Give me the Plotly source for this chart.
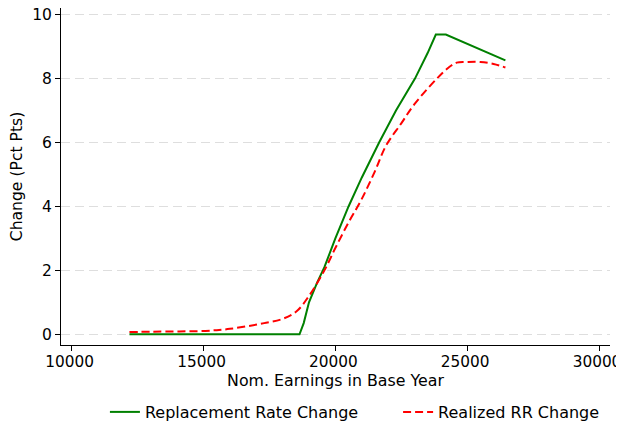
import plotly.graph_objects as go

# earnings grid and series
rr_x = [12190, 18640, 18800, 19000, 19300, 19585, 20000, 20500, 21000, 21660,
        22300, 23020, 23500, 23811, 24190, 26450]
rr_y = [0, 0, 0.35, 1.0, 1.6, 2.1, 3.0, 4.0, 4.9, 6.0,
        7.0, 8.0, 8.8, 9.38, 9.38, 8.57]

real_x = [12190, 13000, 14000, 14870, 15500, 16000, 16640, 17300, 17960, 18530,
          19000, 19585, 20000, 20500, 20980, 21500, 21920, 22500, 23000, 23850,
          24300, 24600, 25000, 25500, 26000, 26450]
real_y = [0.07, 0.08, 0.09, 0.1, 0.13, 0.17, 0.25, 0.35, 0.47, 0.72,
          1.2, 2.0, 2.7, 3.5, 4.2, 5.1, 5.9, 6.6, 7.2, 8.0,
          8.35, 8.5, 8.52, 8.52, 8.46, 8.35]

x_ticks = [10000, 15000, 20000, 25000, 30000]
x_labels = ["10000", "15000", "20000", "25000", "30000"]
y_ticks = [0, 2, 4, 6, 8, 10]

FONT = "DejaVu Sans"

fig = go.Figure()
fig.add_trace(go.Scatter(x=rr_x, y=rr_y, mode="lines", name="Replacement Rate Change",
                         line=dict(color="#008000", width=2), legend="legend"))
fig.add_trace(go.Scatter(x=real_x, y=real_y, mode="lines", name="Realized RR Change",
                         line=dict(color="#ff0000", width=2, dash="8px,4px", shape="spline"),
                         legend="legend2"))

fig.update_xaxes(range=[9594, 30417], tickvals=x_ticks, ticktext=x_labels,
                 ticks="outside", ticklen=5, tickcolor="black", ticklabeloverflow="allow",
                 ticklabelstandoff=-2, ticklabelshift=-2,
                 showline=True, linecolor="black", linewidth=1, showgrid=False, zeroline=False,
                 automargin=False,
                 title=dict(text="Nom. Earnings in Base Year", standoff=0, font=dict(size=15.8)),
                 tickfont=dict(size=15.3, color="black"))
fig.update_yaxes(range=[-0.335, 10.21], tickvals=y_ticks, ticks="outside", ticklen=5,
                 tickcolor="black", ticklabeloverflow="allow",
                 showline=True, linecolor="black", linewidth=1, zeroline=False,
                 showgrid=True, gridcolor="#dedede", griddash="9px,5px", gridwidth=1,
                 automargin=False,
                 title=dict(text="Change (Pct Pts)", standoff=12, font=dict(size=15.6)),
                 tickfont=dict(size=15.5, color="black"))

# the page body adds an 8px offset, so the figure is 8px smaller on each side
leg = dict(orientation="h", yref="container", y=0.0335, yanchor="middle",
           xanchor="left", font=dict(size=16), bgcolor="rgba(0,0,0,0)")
fig.update_layout(width=616, height=418, plot_bgcolor="white", paper_bgcolor="white",
                  font=dict(family=FONT, size=16, color="black"),
                  margin=dict(l=53, r=14, t=0, b=81),
                  legend=dict(leg, x=0.080),
                  legend2=dict(leg, x=0.614),
                  showlegend=True)
fig.write_html("out.html")
